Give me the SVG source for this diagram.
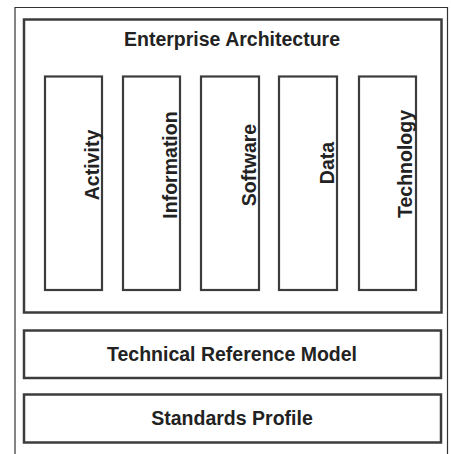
<svg xmlns="http://www.w3.org/2000/svg" width="451" height="454" viewBox="0 0 451 454">
<style>
.box{fill:#fff;stroke:#3c3c3c;stroke-width:2.5}
.col{fill:#fff;stroke:#3c3c3c;stroke-width:2.2}
.t{font-family:"Liberation Sans",Arial,sans-serif;font-weight:bold;font-size:19.5px;fill:#222}
</style>
<rect width="451" height="454" fill="#fff"/>
<path d="M15,460 V7.5 H447.5 V460" fill="none" stroke="#333" stroke-width="1.2"/>
<g id="enterprise-architecture">
<rect class="box" x="24" y="19.5" width="417.5" height="293"/>
<text class="t" x="232" y="46" text-anchor="middle">Enterprise Architecture</text>
</g>
<g id="activity">
<rect class="col" x="45" y="76.5" width="57" height="213.5"/>
<text class="t" transform="translate(98.5,165) rotate(-90)" text-anchor="middle">Activity</text>
</g>
<g id="information">
<rect class="col" x="123" y="76.5" width="57" height="213.5"/>
<text class="t" transform="translate(177,165) rotate(-90)" text-anchor="middle">Information</text>
</g>
<g id="software">
<rect class="col" x="201" y="76.5" width="58" height="213.5"/>
<text class="t" transform="translate(256,165) rotate(-90)" text-anchor="middle">Software</text>
</g>
<g id="data">
<rect class="col" x="279" y="76.5" width="58" height="213.5"/>
<text class="t" transform="translate(334,163) rotate(-90)" text-anchor="middle">Data</text>
</g>
<g id="technology">
<rect class="col" x="359" y="76.5" width="57" height="213.5"/>
<text class="t" transform="translate(412,164) rotate(-90)" text-anchor="middle">Technology</text>
</g>
<g id="technical-reference-model">
<rect class="box" x="24" y="330.5" width="417" height="47.5"/>
<text class="t" x="232" y="361" text-anchor="middle">Technical Reference Model</text>
</g>
<g id="standards-profile">
<rect class="box" x="24" y="394.5" width="417" height="48"/>
<text class="t" x="232" y="425" text-anchor="middle">Standards Profile</text>
</g>
<g id="connectors"></g>
</svg>
